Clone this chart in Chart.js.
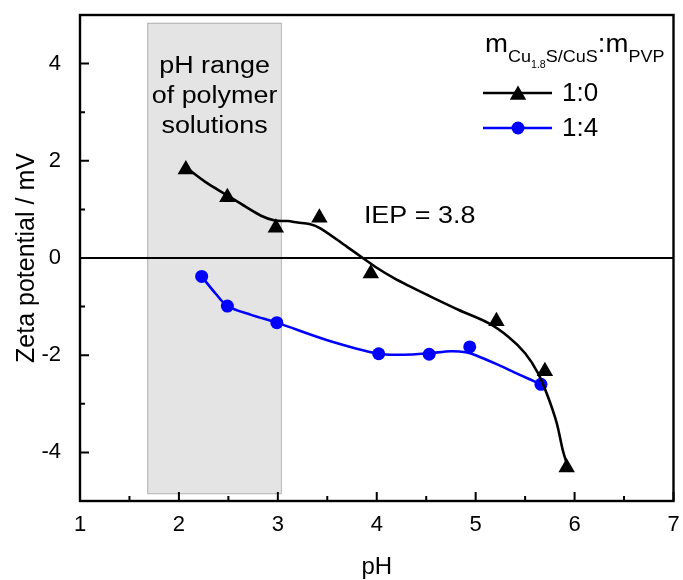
<!DOCTYPE html>
<html>
<head>
<meta charset="utf-8">
<script src="https://cdn.jsdelivr.net/npm/chart.js@4.4.1/dist/chart.umd.min.js"></script>
<style>
  html, body { margin: 0; padding: 0; background: #fff; }
</style>
</head>
<body>
<canvas id="zetaChart" width="683" height="580"></canvas>
<script>
        // values
        const phBare = [2.07, 2.49, 2.98, 3.42, 3.94, 5.21, 5.70, 5.92];
        const zetaBare = [1.82, 1.25, 0.62, 0.83, -0.32, -1.30, -2.33, -4.31];

        const phPvp = [2.23, 2.49, 2.99, 4.02, 4.53, 4.94, 5.66];
        const zetaPvp = [-0.38, -0.99, -1.33, -1.97, -1.98, -1.83, -2.60];

        // smoothed guide curves as drawn in the figure
        const phFitBare = [2.08, 2.27, 2.48, 2.67, 2.83, 2.97, 3.10, 3.20, 3.32, 3.43, 3.70, 3.88, 4.00, 4.17, 4.33, 4.50, 4.83, 5.13, 5.33, 5.50, 5.63, 5.73, 5.82, 5.88, 5.92];
        const zetaFitBare = [1.85, 1.56, 1.30, 1.06, 0.87, 0.77, 0.76, 0.73, 0.70, 0.61, 0.23, -0.03, -0.20, -0.41, -0.58, -0.75, -1.07, -1.34, -1.62, -1.96, -2.37, -2.85, -3.40, -3.95, -4.22];

        const phFitPvp = [2.23, 2.37, 2.49, 2.73, 2.99, 3.50, 4.02, 4.27, 4.53, 4.75, 4.90, 5.00, 5.23, 5.43, 5.65];
        const zetaFitPvp = [-0.38, -0.73, -0.99, -1.17, -1.33, -1.69, -1.97, -1.99, -1.96, -1.92, -1.94, -2.00, -2.20, -2.39, -2.59];

        const bandPh = [1.68, 3.03];
        const bandZeta = [-4.84, 4.84];
        const bandLines = ['pH range', 'of polymer', 'solutions'];
        const seriesLabels = ['1:0', '1:4'];

        const FONT = '"Liberation Sans", Arial, sans-serif';
        const xy = (xs, ys) => xs.map((v, i) => ({ x: v, y: ys[i] }));

        function wideText(ctx, str, x, y, size, stretch, align) {
            ctx.save();
            ctx.translate(x, y);
            ctx.scale(stretch, 1);
            ctx.font = size + 'px ' + FONT;
            ctx.textAlign = align || 'center';
            ctx.textBaseline = 'alphabetic';
            ctx.fillText(str, 0, 0);
            ctx.restore();
        }

        const decor = {
            id: 'decor',
            beforeDatasetsDraw(chart) {
                const { ctx, chartArea: a, scales: { x, y } } = chart;
                ctx.save();
                // shaded pH band
                const x0 = x.getPixelForValue(bandPh[0]);
                const x1 = x.getPixelForValue(bandPh[1]);
                const y0 = y.getPixelForValue(bandZeta[1]);
                const y1 = y.getPixelForValue(bandZeta[0]);
                ctx.fillStyle = '#e4e4e4';
                ctx.fillRect(x0, y0, x1 - x0, y1 - y0);
                ctx.strokeStyle = '#b0b0b0';
                ctx.lineWidth = 1;
                ctx.strokeRect(x0 + 0.5, y0 + 0.5, x1 - x0, y1 - y0);

                ctx.fillStyle = '#000';
                const cx = x.getPixelForValue(2.36);
                [3.81, 3.19, 2.57].forEach((v, i) => {
                    wideText(ctx, bandLines[i], cx, y.getPixelForValue(v), 23, 1.17);
                });

                // zero line
                ctx.strokeStyle = '#000';
                ctx.lineWidth = 2;
                ctx.beginPath();
                ctx.moveTo(a.left, y.getPixelForValue(0));
                ctx.lineTo(a.right, y.getPixelForValue(0));
                ctx.stroke();
                ctx.restore();
            },
            afterDatasetsDraw(chart) {
                const { ctx, chartArea: a, scales: { x, y } } = chart;
                ctx.save();
                ctx.strokeStyle = '#000';
                ctx.lineWidth = 2.4;
                ctx.strokeRect(a.left, a.top, a.right - a.left, a.bottom - a.top);

                // inward ticks
                ctx.lineWidth = 2;
                ctx.beginPath();
                for (let v = 1; v <= 7; v += 0.5) {
                    const px = x.getPixelForValue(v);
                    const len = Number.isInteger(v) ? 9 : 5;
                    ctx.moveTo(px, a.bottom);
                    ctx.lineTo(px, a.bottom - len);
                }
                for (let v = -5; v <= 5; v++) {
                    const py = y.getPixelForValue(v);
                    const len = v % 2 === 0 ? 9 : 5;
                    ctx.moveTo(a.left, py);
                    ctx.lineTo(a.left + len, py);
                }
                ctx.stroke();

                // IEP label
                ctx.fillStyle = '#000';
                wideText(ctx, 'IEP = 3.8', x.getPixelForValue(3.87), y.getPixelForValue(0.72), 23, 1.17, 'left');

                // legend title m_{Cu1.8S/CuS}:m_{PVP}
                const parts = [
                    ['m', 26, 0], ['Cu', 17, 10], ['1.8', 10, 16], ['S/CuS', 17, 10], [':m', 26, 0], ['PVP', 17, 10]
                ];
                let lx = 485;
                const base = 52;
                ctx.textAlign = 'left';
                ctx.textBaseline = 'alphabetic';
                parts.forEach(([t, s, dy]) => {
                    ctx.save();
                    ctx.translate(lx, base + dy);
                    ctx.scale(1.06, 1);
                    ctx.font = s + 'px ' + FONT;
                    ctx.fillText(t, 0, 0);
                    lx += ctx.measureText(t).width * 1.06;
                    ctx.restore();
                });

                // legend rows
                const rows = [
                    { color: '#000', style: 'triangle', r: 9.5, yy: 93 },
                    { color: '#0000ff', style: 'circle', r: 6.5, yy: 128 }
                ];
                rows.forEach((row, i) => {
                    ctx.strokeStyle = row.color;
                    ctx.lineWidth = 2.4;
                    ctx.beginPath();
                    ctx.moveTo(483, row.yy);
                    ctx.lineTo(552, row.yy);
                    ctx.stroke();
                    ctx.fillStyle = row.color;
                    Chart.helpers.drawPoint(ctx, { pointStyle: row.style, radius: row.r, rotation: 0, borderWidth: 0 }, 518, row.style === 'triangle' ? row.yy + 2 : row.yy);
                    ctx.fillStyle = '#000';
                    ctx.font = '26px ' + FONT;
                    ctx.textAlign = 'left';
                    ctx.textBaseline = 'middle';
                    ctx.fillText(seriesLabels[i], 562, row.yy + 1);
                });
                ctx.restore();
            }
        };

        const ctx = document.getElementById('zetaChart').getContext('2d');

        const chart = new Chart(ctx, {
            type: 'scatter',
            data: {
                datasets: [
                    {
                        label: '1:0 curve',
                        data: xy(phFitBare, zetaFitBare),
                        showLine: true,
                        borderColor: '#000',
                        borderWidth: 2.6,
                        pointRadius: 0,
                        tension: 0.3
                    },
                    {
                        label: '1:4 curve',
                        data: xy(phFitPvp, zetaFitPvp),
                        showLine: true,
                        borderColor: '#0000ff',
                        borderWidth: 2.6,
                        pointRadius: 0,
                        tension: 0.3
                    },
                    {
                        label: seriesLabels[0],
                        data: xy(phBare, zetaBare),
                        pointStyle: 'triangle',
                        pointRadius: 9.5,
                        backgroundColor: '#000',
                        borderColor: '#000',
                        borderWidth: 0
                    },
                    {
                        label: seriesLabels[1],
                        data: xy(phPvp, zetaPvp),
                        pointStyle: 'circle',
                        pointRadius: 6.5,
                        backgroundColor: '#0000ff',
                        borderColor: '#0000ff',
                        borderWidth: 0
                    }
                ]
            },
            options: {
                responsive: false,
                animation: false,
                layout: { padding: { top: 15, right: 3, left: 0, bottom: 0 } },
                plugins: {
                    legend: { display: false },
                    tooltip: { enabled: false }
                },
                scales: {
                    x: {
                        type: 'linear',
                        min: 1,
                        max: 7,
                        grid: { display: false },
                        border: { display: false },
                        ticks: {
                            stepSize: 0.5,
                            autoSkip: false,
                            maxRotation: 0,
                            padding: 3,
                            color: '#000',
                            font: { size: 22, family: FONT },
                            callback: v => Number.isInteger(v) ? String(v) : ''
                        },
                        title: {
                            display: true,
                            text: 'pH',
                            color: '#000',
                            font: { size: 24, family: FONT },
                            padding: { top: 0, bottom: -2 }
                        },
                        afterFit: s => { s.height = 79; s.paddingLeft = 0; s.paddingRight = 0; }
                    },
                    y: {
                        min: -5,
                        max: 5,
                        grid: { display: false },
                        border: { display: false },
                        ticks: {
                            stepSize: 1,
                            autoSkip: false,
                            padding: 11,
                            color: '#000',
                            font: { size: 22, family: FONT },
                            callback: v => v % 2 === 0 ? String(v) : ''
                        },
                        title: {
                            display: true,
                            text: 'Zeta potential / mV',
                            color: '#000',
                            font: { size: 25, family: FONT },
                            padding: { top: 12, bottom: 0 }
                        },
                        afterFit: s => { s.width = 80; s.paddingTop = 0; s.paddingBottom = 0; }
                    }
                }
            },
            plugins: [decor]
        });
</script>
</body>
</html>
